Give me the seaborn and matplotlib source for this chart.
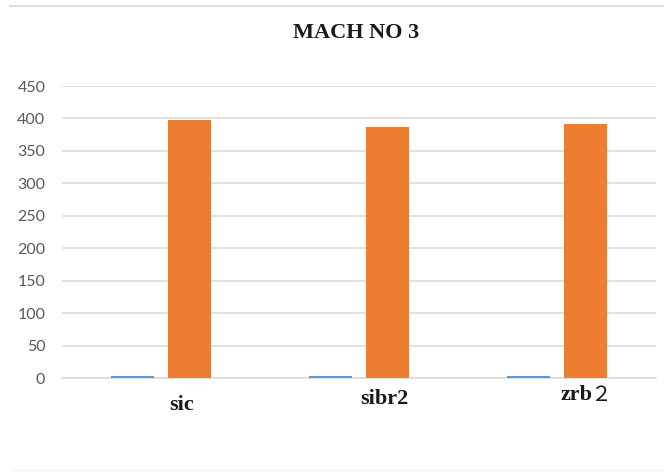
import matplotlib
matplotlib.use("Agg")
import matplotlib.pyplot as plt
from matplotlib.lines import Line2D
import seaborn as sns
import pandas as pd

# Data
categories = ["sic", "sibr2", "zrb２"]
series_names = ["Series1", "Series2"]
series1 = [2.5, 2.5, 2.5]
series2 = [398, 387, 391]
yticks = [0, 50, 100, 150, 200, 250, 300, 350, 400, 450]

df = pd.DataFrame({
    "material": categories * 2,
    "series": [series_names[0]] * 3 + [series_names[1]] * 3,
    "value": series1 + series2,
})

sns.set_theme(style="white")

fig = plt.figure(figsize=(6.64, 4.74), dpi=100)
ax = fig.add_axes([62 / 664, 96 / 474, 594 / 664, 292 / 474])

sns.barplot(
    data=df, x="material", y="value", hue="series",
    palette=["#5b9bd5", "#ed7d31"], width=0.576, gap=0.23,
    legend=False, ax=ax, saturation=1, errorbar=None,
)
for p in ax.patches:
    p.set_zorder(3)
    p.set_linewidth(0)

ax.set_ylim(0, 450)
ax.set_xlim(-0.5, 2.5)
ax.set_yticks(yticks)
ax.set_yticklabels([str(t) for t in yticks], family="Lato",
                   fontsize=11.5, color="#595959")
ax.yaxis.grid(True, color="#d9d9d9", linewidth=1.1)
ax.set_axisbelow(True)
for side in ["top", "right", "left"]:
    ax.spines[side].set_visible(False)
ax.spines["bottom"].set_color("#d9d9d9")
ax.spines["bottom"].set_linewidth(1.1)
ax.spines["bottom"].set_zorder(1)
ax.tick_params(axis="both", length=0)
ax.tick_params(axis="y", pad=12)
ax.set_xlabel("")
ax.set_ylabel("")

# category labels, set a little right of each group
ax.set_xticks([0, 1, 2])
ax.set_xticklabels([])
xform = ax.get_xaxis_transform()
label_dx = [0.105, 0.13, 0.18]
label_dy = [-27, -21, -17]
for i, (name, dx, dy) in enumerate(zip(categories, label_dx, label_dy)):
    y = dy / 292
    if name and ord(name[-1]) > 0xFF00:
        head = ax.text(i + dx, y, name[:-1], transform=xform, ha="right",
                       va="center", family="Liberation Serif",
                       fontweight="bold", fontsize=16, color="#1a1a1a")
        ax.annotate(name[-1], xy=(1, 0.5), xycoords=head, xytext=(-1.5, 0),
                    textcoords="offset points", ha="left", va="center",
                    family="Noto Sans CJK SC", fontsize=15, color="#1a1a1a")
    else:
        ax.text(i + dx, y, name, transform=xform, ha="center", va="center",
                family="Liberation Serif", fontweight="bold", fontsize=16,
                color="#1a1a1a")

fig.text(356 / 664, 1 - 33 / 474, "MACH NO 3", ha="center", va="center",
         family="Liberation Serif", fontweight="bold", fontsize=16,
         color="#1a1a1a")

# chart frame edges
fig.add_artist(Line2D([10 / 664, 1], [1 - 6 / 474, 1 - 6 / 474],
                      transform=fig.transFigure, color="#dcdcdc", linewidth=1.5))
fig.add_artist(Line2D([10 / 664, 1], [1 - 470 / 474, 1 - 470 / 474],
                      transform=fig.transFigure, color="#f2f2f2", linewidth=1))

fig.savefig("out.png", dpi=100, facecolor="white")
